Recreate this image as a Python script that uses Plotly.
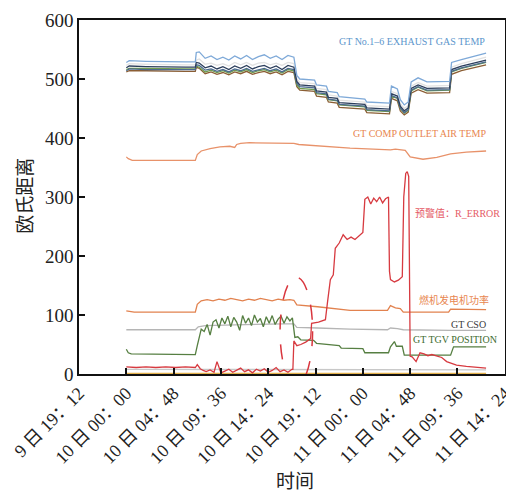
import datetime as dt
import plotly.graph_objects as go

# ---------------- data (hours after 10日 00:00) ----------------
base = dt.datetime(2021, 1, 10, 0, 0)

tick_hours = [-4.8, 0, 4.8, 9.6, 14.4, 19.2, 24.0, 28.8, 33.6, 38.4]
tick_text = ["9 日 19：12", "10 日 00：00", "10 日 04：48", "10 日 09：36", "10 日 14：24",
             "10 日 19：12", "11 日 00：00", "11 日 04：48", "11 日 09：36", "11 日 14：24"]

# Exhaust gas temperatures No.1-6
t_exh = [0, 0.3, 2, 4, 6, 7.0, 7.1, 7.4, 8, 8.6, 9.2, 9.8, 10.4, 11, 11.6, 12.2, 12.8, 13.4,
         14, 14.6, 15.2, 15.8, 16.4, 17.0, 17.3, 17.6, 19.1, 19.3, 20.3, 20.5, 21.4, 21.6,
         24.2, 24.4, 26.7, 26.9, 27.5, 27.8, 28.2, 28.6, 28.9, 29.6, 30.5, 32.8, 33.0, 34, 35, 36.5]
exh_1 = [528, 531, 530, 529, 529, 529, 545, 546, 535, 539, 533, 537, 532, 539, 534, 540, 533, 538,
         541, 535, 539, 533, 540, 537, 506, 500, 498, 490, 488, 479, 477, 470,
         466, 461, 459, 488, 483, 465, 456, 461, 495, 502, 495, 496, 528, 533, 537, 544]
exh_2 = [523, 526, 525, 524, 524, 524, 532, 534, 525, 527, 523, 526, 522, 528, 524, 528, 523, 527,
         528, 524, 527, 523, 528, 526, 500, 494, 492, 484, 482, 473, 471, 464,
         461, 455, 453, 479, 475, 458, 450, 455, 488, 494, 488, 489, 520, 526, 530, 537]
exh_3 = [519, 522, 521, 520, 520, 520, 528, 527, 519, 522, 517, 521, 516, 522, 518, 523, 517, 521,
         523, 518, 522, 516, 523, 520, 496, 490, 488, 480, 478, 469, 467, 460,
         457, 451, 449, 475, 471, 454, 446, 451, 484, 490, 484, 485, 516, 522, 526, 532]
exh_4 = [514, 517, 516, 516, 516, 516, 524, 523, 515, 517, 513, 516, 512, 517, 514, 518, 513, 516,
         518, 514, 517, 512, 518, 516, 493, 487, 485, 477, 475, 466, 464, 457,
         454, 448, 446, 472, 468, 451, 443, 448, 481, 487, 481, 482, 513, 519, 523, 529]
exh_5 = [516, 518, 518, 517, 517, 517, 522, 520, 512, 515, 511, 514, 510, 515, 512, 516, 511, 514,
         516, 512, 515, 510, 516, 514, 490, 484, 482, 475, 473, 465, 463, 456,
         453, 447, 445, 471, 467, 450, 442, 447, 480, 486, 480, 481, 512, 518, 522, 528]
exh_6 = [512, 514, 514, 513, 513, 513, 520, 518, 509, 512, 508, 511, 507, 512, 509, 513, 508, 511,
         513, 509, 512, 507, 513, 511, 487, 481, 479, 471, 469, 461, 459, 452,
         449, 443, 441, 467, 463, 446, 439, 444, 476, 482, 476, 477, 508, 514, 518, 524]

# Compressor outlet air temperature
t_comp = [0, 0.2, 0.6, 7.0, 7.2, 7.6, 8.5, 9.5, 10.5, 11.0, 11.2, 11.6, 12.5, 14, 16, 17.0, 17.5,
          19.4, 22.7, 26.8, 27.3, 28.3, 28.8, 30.1, 31.5, 32.9, 34.5, 36.5]
comp = [368, 365, 362, 362, 372, 378, 382, 385, 386, 384, 389, 391, 392, 392, 391, 391, 389,
        387, 383, 380, 381, 379, 368, 364, 367, 373, 376, 378]

# Generator power
t_pow = [0, 0.3, 0.8, 7.0, 7.2, 7.6, 8.2, 8.8, 9.4, 10, 10.6, 11.2, 11.8, 12.4, 13, 13.6, 14.2,
         14.8, 15.4, 16, 16.6, 17.0, 17.3, 19.4, 22.7, 26.5, 26.8, 27.3, 27.8, 28.1, 32.7, 32.9, 36.5]
power = [107, 106, 105, 105, 118, 124, 126, 124, 127, 125, 128, 126, 124, 127, 125, 128, 126,
         124, 127, 125, 126, 125, 117, 114, 108, 108, 116, 112, 111, 105, 105, 110, 109]

# GT CSO
t_cso = [0, 7.0, 7.3, 8, 10, 12, 14, 16, 17.0, 17.3, 19.4, 22.7, 26.5, 26.8, 27.5, 28.1, 32.9, 36.5]
cso = [75, 75, 80, 82, 83, 84, 85, 85, 85, 79, 78, 76, 75, 78, 77, 75, 74, 74]

# GT TGV position
t_tgv = [0, 0.2, 0.5, 7.0, 7.2, 7.4, 7.6, 7.9, 8.2, 8.5, 8.8, 9.1, 9.4, 9.7, 10.0, 10.3, 10.6,
         10.9, 11.2, 11.5, 11.8, 12.1, 12.4, 12.7, 13.0, 13.3, 13.6, 13.9, 14.2, 14.5, 14.8,
         15.1, 15.4, 15.7, 16.0, 16.3, 16.6, 16.85, 17.1, 17.4, 17.7, 19.0, 19.3, 21.6, 21.8,
         24.0, 24.2, 26.6, 26.8, 27.2, 27.4, 28.0, 28.2, 32.9, 33.2, 36.5]
tgv = [42, 36, 34, 33, 48, 62, 76, 72, 84, 66, 88, 92, 78, 95, 85, 98, 80,
       96, 88, 74, 99, 86, 95, 82, 100, 88, 94, 80, 97, 86, 99,
       84, 93, 98, 86, 97, 90, 95, 62, 63, 58, 57, 52, 48, 44,
       43, 36, 36, 46, 55, 47, 47, 32, 32, 46, 46]

# Warning value R_ERROR
t_err = [0, 1, 2, 3, 4, 5, 6, 7.0,
         7.2, 7.5, 7.8, 8.1, 8.5, 8.9, 9.2, 9.6, 10.0, 10.4, 10.8, 11.2, 11.6, 12.0, 12.4, 12.8,
         13.2, 13.6, 14.0, 14.4, 14.8, 15.2, 15.6, 16.0, 16.4, 16.8,
         16.9, 17.0, 17.3, 17.7, 18.2, 18.7, 18.8, 19.5, 20.2,
         20.4, 20.7, 21.0, 21.2, 21.6, 22.0, 22.4, 22.8, 23.2, 23.7, 24.0,
         24.2, 24.5, 24.8, 25.1, 25.4, 25.7, 26.0, 26.3, 26.6,
         26.7, 26.8, 27.2, 27.6, 28.0,
         28.15, 28.35, 28.5, 28.65,
         28.8, 29.0, 29.4, 29.8, 30.2, 30.6, 31.0, 31.5, 32.0, 32.5, 33.0, 33.5, 34.5, 35.5, 36.5]
r_error = [12, 11, 12, 11, 12, 11, 12, 11,
           16, 9, 6, 4, 7, 3, 21, 2, 5, 8, 3, 6, 10, 4, 7, 2,
           8, 5, 9, 3, 6, 11, 4, 7, 3, 8,
           8, 56, 48, 50, 54, 60, 86, 88, 92,
           120, 160, 168, 213, 222, 236, 228, 232, 228, 235, 240,
           296, 300, 288, 298, 292, 300, 290, 297, 300,
           174, 160, 156, 159, 165,
           300, 340, 343, 335,
           30, 29, 21, 36, 34, 31, 33, 30, 28, 21, 18, 15, 13, 11, 10]

# Low-level baseline signals
t_low = [0, 12, 24, 36.5]
low_grey = [8, 8, 7, 7]
low_gold = [1, 1, 1, 1]

# Highlight ellipse (hours / value bounds)
ell_t = [15.6, 18.9]
ell_v = [-19, 164]


def to_time(hours):
    return [base + dt.timedelta(hours=h) for h in hours]


FONT = "'Liberation Serif', 'Noto Sans CJK SC', serif"

fig = go.Figure()

exh_series = [
    (exh_6, "#8B5E34"),
    (exh_5, "#6E9B4E"),
    (exh_4, "#4B6A8F"),
    (exh_2, "#E2E2E2"),
    (exh_3, "#2C3E5C"),
    (exh_1, "#7EA9D8"),
]
for vals, col in exh_series:
    fig.add_trace(go.Scatter(x=to_time(t_exh), y=vals, mode="lines",
                             line=dict(color=col, width=1.3), showlegend=False))

fig.add_trace(go.Scatter(x=to_time(t_low), y=low_gold, mode="lines",
                         line=dict(color="#E3B04B", width=1.5), showlegend=False))
fig.add_trace(go.Scatter(x=to_time(t_low), y=low_grey, mode="lines",
                         line=dict(color="#C8C8C8", width=1.3), showlegend=False))
fig.add_trace(go.Scatter(x=to_time(t_comp), y=comp, mode="lines",
                         line=dict(color="#E8926A", width=1.3), showlegend=False))
fig.add_trace(go.Scatter(x=to_time(t_pow), y=power, mode="lines",
                         line=dict(color="#E2824F", width=1.3), showlegend=False))
fig.add_trace(go.Scatter(x=to_time(t_cso), y=cso, mode="lines",
                         line=dict(color="#B5B5B5", width=1.3), showlegend=False))
fig.add_trace(go.Scatter(x=to_time(t_tgv), y=tgv, mode="lines",
                         line=dict(color="#567F42", width=1.3), showlegend=False))
fig.add_trace(go.Scatter(x=to_time(t_err), y=r_error, mode="lines",
                         line=dict(color="#D73A40", width=1.3), showlegend=False))

fig.add_shape(type="circle", xref="x", yref="y",
              x0=to_time([ell_t[0]])[0], x1=to_time([ell_t[1]])[0],
              y0=ell_v[0], y1=ell_v[1],
              line=dict(color="#D9363E", width=1.5, dash="longdash"))

ann = [
    ("GT No.1–6 EXHAUST GAS TEMP", 36.6, 563, "right", "#5C96CC"),
    ("GT COMP OUTLET AIR TEMP", 36.7, 408, "right", "#E8864F"),
    ("预警值：R_ERROR", 29.1, 273, "left", "#E55A66"),
    ("燃机发电机功率", 29.5, 125, "left", "#E8864F"),
    ("GT CSO", 36.7, 84, "right", "#3A3A3A"),
    ("GT TGV POSITION", 28.9, 58, "left", "#3E6B2F"),
]
for txt, h, v, anc, col in ann:
    fig.add_annotation(x=to_time([h])[0], y=v, text=txt, showarrow=False,
                       xanchor=anc, yanchor="middle",
                       font=dict(family=FONT, size=10, color=col))

# axis titles as paper annotations
fig.add_annotation(x=0.507, y=-0.305, xref="paper", yref="paper", text="时间",
                   showarrow=False, xanchor="center", yanchor="middle",
                   font=dict(family=FONT, size=19, color="#222"))
fig.add_annotation(x=-0.125, y=0.503, xref="paper", yref="paper", text="欧氏距离",
                   showarrow=False, xanchor="center", yanchor="middle", textangle=-90,
                   font=dict(family=FONT, size=19, color="#222"))

# page body adds an 8px margin, so the figure is 8px smaller than the window
fig.update_layout(
    width=506, height=487,
    margin=dict(l=71, r=9, t=12, b=121, autoexpand=False),
    paper_bgcolor="white", plot_bgcolor="white",
    font=dict(family=FONT, size=19, color="#222"),
    showlegend=False,
)
fig.update_xaxes(
    range=[to_time([tick_hours[0]])[0], to_time([tick_hours[-1] + 0.02])[0]],
    tickvals=to_time(tick_hours), ticktext=tick_text, tickangle=-45,
    ticks="inside", ticklen=6, tickwidth=1.5, tickcolor="#111",
    showline=True, linecolor="#111", linewidth=1.5, mirror=True,
    showgrid=False, zeroline=False, automargin=False,
    tickfont=dict(family=FONT, size=18, color="#222"),
)
fig.update_yaxes(
    range=[0, 600], tickvals=[0, 100, 200, 300, 400, 500, 600],
    ticks="inside", ticklen=6, tickwidth=1.5, tickcolor="#111",
    showline=True, linecolor="#111", linewidth=1.5, mirror=True,
    showgrid=False, zeroline=False, automargin=False,
    tickfont=dict(family=FONT, size=19, color="#222"),
)

fig.write_html("out.html")
